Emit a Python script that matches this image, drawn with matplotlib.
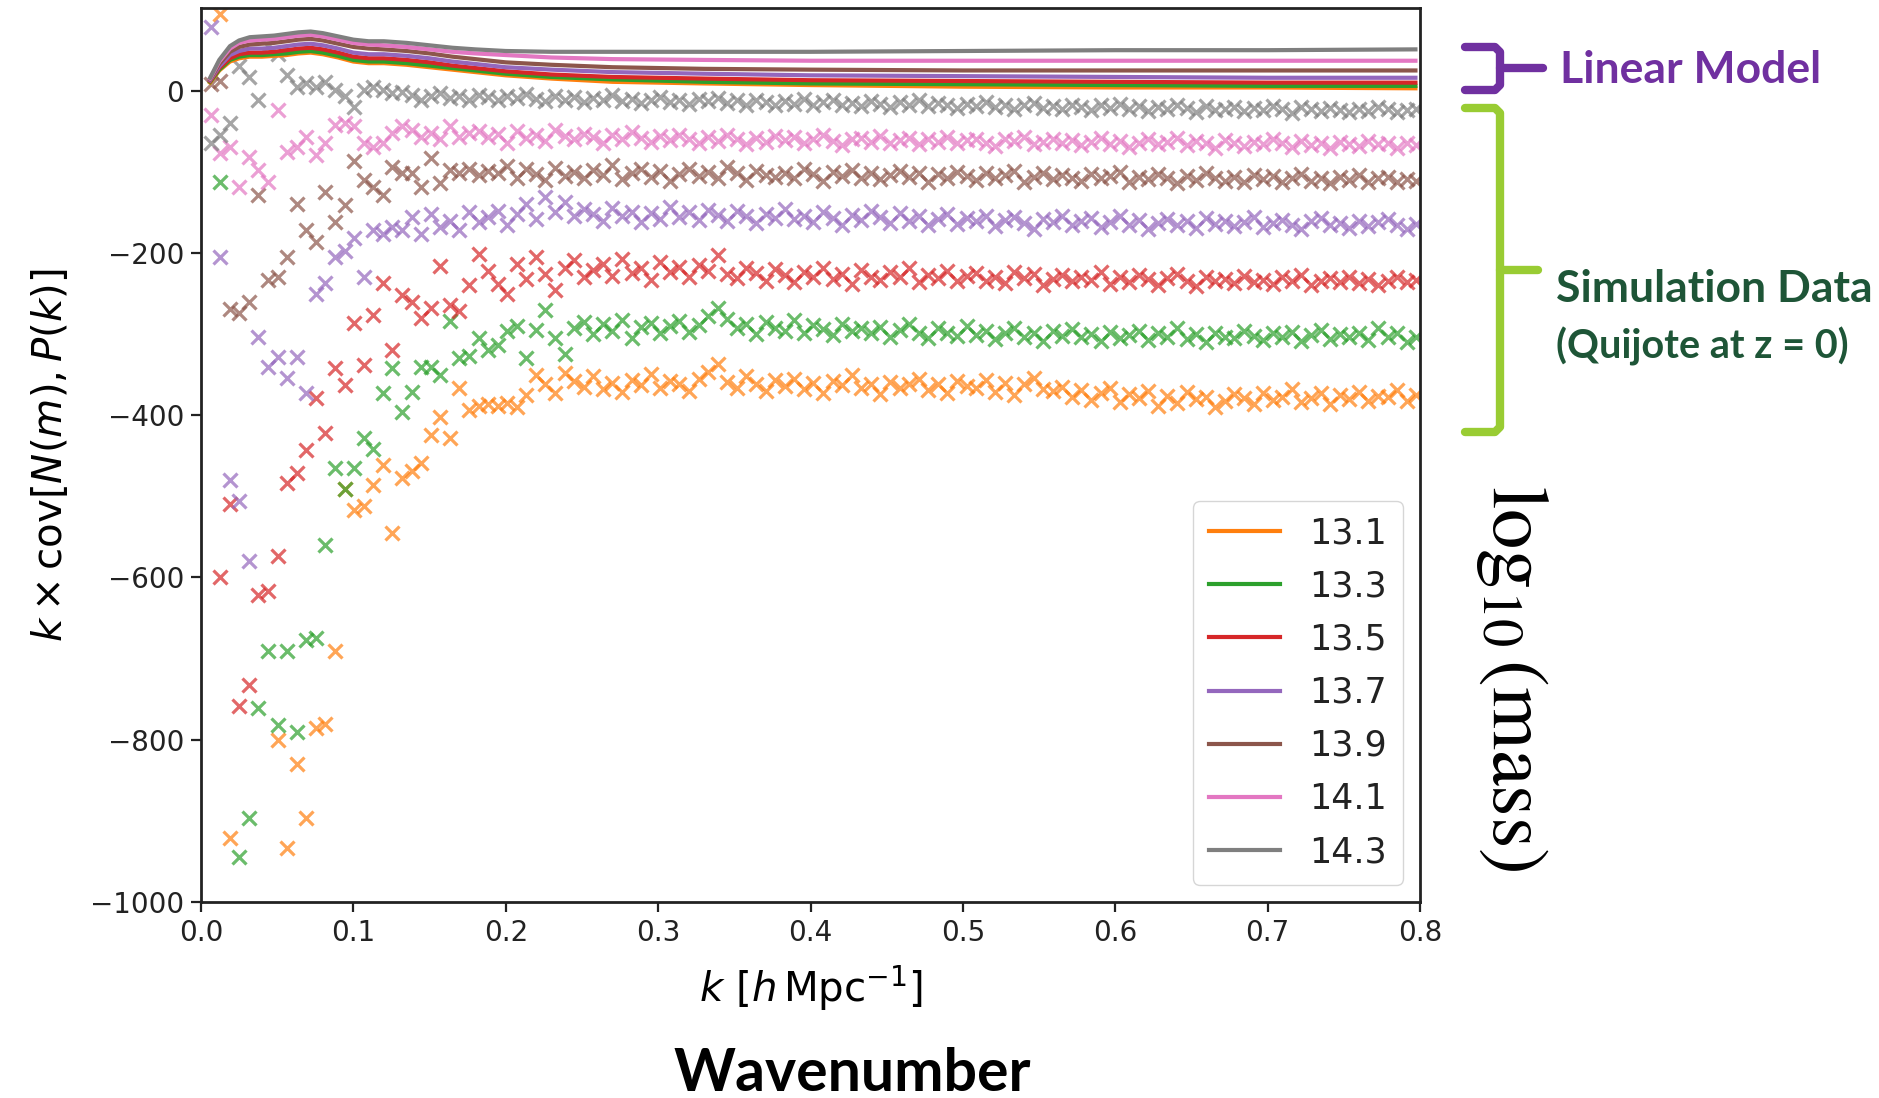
import matplotlib
matplotlib.use("Agg")
import matplotlib.pyplot as plt
import numpy as np
from matplotlib.lines import Line2D

nan = np.nan

# k bins of the simulation (fundamental frequency of a 1 Gpc/h box)
K_FUND = 0.00628
N_BINS = 127
k_bins = K_FUND * np.arange(1, N_BINS + 1)

masses = ["13.1", "13.3", "13.5", "13.7", "13.9", "14.1", "14.3"]
colors = ["tab:orange", "tab:green", "tab:red", "tab:purple",
          "tab:brown", "tab:pink", "tab:gray"]

# simulation data: k x cov[N(m), P(k)] for each mass bin
sim_131 = [
    nan, 94, -921, nan, nan, nan, nan, -800, -933, -830,
    -897, -786, -780, -691, -491, -517, -512, -486, -461, -545,
    -477, -469, -459, -424, -402, -428, -366, -393, -389, -386,
    -388, -385, -390, -375, -350, -362, -372, -348, -358, -365,
    -352, -368, -360, -371, -356, -363, -349, -366, -358, -361,
    -370, -355, -347, -337, -359, -366, -352, -362, -370, -357,
    -364, -355, -368, -360, -372, -358, -363, -351, -367, -361,
    -374, -359, -366, -362, -355, -369, -361, -373, -358, -364,
    -367, -356, -371, -360, -375, -362, -354, -368, -370, -365,
    -377, -369, -381, -372, -366, -384, -374, -379, -370, -388,
    -376, -385, -371, -380, -377, -390, -382, -374, -379, -386,
    -372, -381, -377, -368, -384, -379, -373, -386, -375, -380,
    -371, -383, -376, -378, -369, -382, -375,
]
sim_133 = [
    nan, -112, nan, -944, -897, -761, -691, -782, -691, -790,
    -677, -675, -560, -465, -491, -465, -428, -441, -373, -342,
    -396, -371, -340, -340, -350, -284, -329, -327, -305, -320,
    -313, -296, -290, -330, -295, -270, -305, -325, -293, -285,
    -300, -288, -296, -282, -305, -291, -286, -299, -290, -284,
    -297, -289, -278, -268, -281, -293, -287, -300, -285, -292,
    -296, -283, -298, -289, -294, -301, -287, -296, -292, -299,
    -291, -303, -295, -288, -299, -305, -293, -298, -302, -290,
    -301, -296, -306, -298, -292, -304, -299, -308, -296, -302,
    -294, -303, -300, -309, -297, -305, -301, -296, -307, -299,
    -304, -293, -306, -300, -310, -298, -303, -305, -296, -302,
    -307, -299, -304, -297, -309, -301, -295, -306, -300, -303,
    -298, -307, -292, -304, -299, -310, -303,
]
sim_135 = [
    nan, -600, -510, -758, -732, -621, -617, -574, -484, -471,
    -443, -379, -422, -342, -363, -286, -338, -276, -237, -319,
    -252, -260, -280, -268, -216, -264, -272, -240, -201, -222,
    -238, -250, -213, -232, -205, -226, -245, -218, -209, -230,
    -221, -214, -228, -207, -225, -219, -233, -211, -224, -217,
    -229, -215, -222, -202, -226, -231, -218, -225, -234, -220,
    -227, -236, -223, -230, -219, -232, -226, -238, -221, -229,
    -233, -224, -230, -218, -236, -227, -231, -222, -235, -228,
    -225, -234, -229, -237, -223, -231, -226, -240, -232, -227,
    -235, -229, -233, -224, -238, -230, -236, -227, -232, -239,
    -231, -226, -234, -241, -229, -235, -232, -237, -228, -236,
    -233, -238, -230, -235, -227, -239, -234, -231, -236, -229,
    -237, -232, -240, -234, -230, -236, -233,
]
sim_137 = [
    78, -205, -480, -506, -580, -303, -340, -328, -354, -328,
    -373, -250, -237, -205, -197, -181, -230, -172, -176, -168,
    -172, -156, -176, -152, -168, -160, -172, -150, -162, -156,
    -148, -165, -152, -140, -158, -131, -150, -137, -155, -146,
    -152, -160, -145, -155, -149, -162, -151, -158, -143, -156,
    -150, -159, -147, -153, -161, -148, -155, -163, -152, -157,
    -146, -158, -154, -162, -150, -157, -165, -153, -159, -148,
    -156, -163, -151, -160, -155, -166, -158, -152, -164, -157,
    -161, -154, -167, -159, -156, -163, -170, -158, -162, -155,
    -166, -160, -157, -168, -162, -154, -165, -159, -171, -163,
    -158, -166, -161, -169, -157, -164, -160, -167, -162, -156,
    -168, -163, -159, -165, -170, -161, -157, -166, -163, -169,
    -160, -167, -162, -158, -165, -171, -164,
]
sim_139 = [
    8, 12, -269, -274, -260, -129, -233, -230, -205, -139,
    -172, -186, -125, -162, -141, -86, -110, -119, -129, -94,
    -102, -102, -119, -83, -114, -98, -102, -96, -104, -99,
    -101, -93, -108, -97, -103, -110, -95, -105, -100, -107,
    -98, -104, -92, -109, -101, -96, -106, -99, -111, -103,
    -97, -105, -100, -108, -94, -102, -110, -99, -104, -106,
    -101, -108, -97, -103, -111, -100, -105, -98, -107, -102,
    -109, -104, -99, -106, -101, -112, -103, -107, -100, -105,
    -110, -102, -108, -104, -99, -113, -106, -101, -109, -104,
    -107, -111, -103, -108, -105, -100, -112, -106, -109, -103,
    -108, -114, -105, -110, -102, -107, -111, -106, -113, -104,
    -109, -105, -112, -108, -103, -111, -107, -114, -106, -110,
    -104, -112, -108, -106, -113, -109, -111,
]
sim_141 = [
    -30, -77, -69, -119, -82, -98, -113, -24, -75, -69,
    -57, -79, -65, -42, -40, -44, -65, -69, -65, -52,
    -44, -48, -57, -52, -60, -44, -57, -52, -50, -57,
    -53, -65, -50, -58, -55, -62, -48, -56, -60, -53,
    -57, -64, -55, -60, -51, -58, -63, -56, -61, -54,
    -59, -65, -57, -62, -55, -60, -66, -58, -63, -56,
    -61, -57, -64, -59, -55, -62, -67, -60, -58, -63,
    -56, -64, -61, -58, -66, -60, -63, -57, -65, -61,
    -59, -64, -68, -60, -62, -57, -66, -63, -59, -65,
    -61, -67, -63, -58, -66, -62, -69, -64, -60, -66,
    -63, -58, -67, -62, -65, -70, -61, -64, -68, -63,
    -66, -60, -65, -69, -62, -67, -64, -70, -63, -66,
    -68, -62, -66, -64, -70, -65, -67,
]
sim_143 = [
    -65, -55, -40, 30, 17, -11, 55, 45, 20, 5,
    10, 5, 11, 1, -7, -20, 1, 5, 1, -3,
    -1, -5, -11, -7, -3, -9, -6, -11, -5, -8,
    -12, -6, -9, -4, -10, -13, -7, -11, -8, -14,
    -9, -12, -5, -13, -10, -15, -11, -8, -14, -12,
    -16, -10, -13, -9, -15, -12, -17, -11, -14, -18,
    -13, -16, -10, -17, -14, -12, -18, -15, -19, -13,
    -16, -20, -14, -17, -12, -19, -15, -18, -21, -16,
    -19, -14, -20, -17, -22, -18, -15, -21, -19, -23,
    -17, -20, -24, -18, -21, -16, -22, -19, -25, -20,
    -23, -18, -21, -26, -19, -24, -22, -20, -25, -21,
    -24, -19, -23, -27, -20, -22, -25, -21, -24, -26,
    -22, -25, -20, -23, -26, -24, -22,
]
sim_data = [sim_131, sim_133, sim_135, sim_137, sim_139, sim_141, sim_143]

# linear model, read at a set of k nodes
k_model = [0.006, 0.012, 0.019, 0.025, 0.032, 0.040, 0.048, 0.056, 0.064,
           0.072, 0.080, 0.090, 0.100, 0.110, 0.120, 0.135, 0.150, 0.165,
           0.180, 0.200, 0.230, 0.270, 0.330, 0.400, 0.500, 0.600, 0.700,
           0.797]
lin_131 = [10, 25, 36, 40, 42, 42, 43, 44, 46, 47, 45, 41, 36, 34, 34, 32,
           29, 26, 23, 19, 15, 11, 9, 7, 5, 4, 4, 3]
lin_133 = [11, 26, 38, 42, 44, 44, 45, 46, 48, 49, 47, 43, 38, 36, 36, 34,
           31, 28, 25, 21, 17, 14, 11, 9, 8, 7, 6, 6]
lin_135 = [12, 28, 40, 45, 47, 47, 48, 50, 52, 53, 51, 47, 42, 40, 40, 38,
           35, 31, 28, 24, 20, 17, 15, 13, 12, 11, 10, 10]
lin_137 = [13, 30, 44, 49, 52, 52, 53, 55, 57, 58, 56, 52, 47, 45, 45, 43,
           40, 36, 33, 29, 26, 23, 21, 19, 18, 17, 16, 16]
lin_139 = [14, 33, 48, 54, 57, 58, 59, 61, 63, 64, 62, 58, 54, 52, 51, 49,
           46, 42, 39, 35, 32, 29, 27, 26, 25, 25, 25, 25]
lin_141 = [15, 36, 52, 59, 62, 63, 64, 66, 68, 69, 67, 63, 59, 57, 56, 54,
           51, 48, 46, 44, 41, 39, 38, 37, 37, 37, 37, 37]
lin_143 = [16, 38, 55, 62, 66, 67, 68, 70, 72, 73, 71, 67, 63, 61, 61, 59,
           56, 53, 51, 49, 48, 48, 48, 48, 49, 50, 50, 51]
lin_model = [lin_131, lin_133, lin_135, lin_137, lin_139, lin_141, lin_143]

W, H = 1879, 1098


def fx(x):
    return x / W


def fy(y):
    return 1 - y / H


fig = plt.figure(figsize=(W / 100, H / 100), dpi=100)
ax = fig.add_axes([fx(201), fy(902), fx(1420) - fx(201), fy(8) - fy(902)])

for vals, col in zip(sim_data, colors):
    ax.plot(k_bins, vals, linestyle="none", marker="x", ms=10, mew=2.3,
            color=col, alpha=0.7)

for vals, col, lab in zip(lin_model, colors, masses):
    ax.plot(k_model, vals, color=col, lw=3, label=lab)

ax.set_xlim(0, 0.8)
ax.set_ylim(-1000, 102)
ax.set_xticks(np.arange(0, 0.81, 0.1))
ax.set_yticks([-1000, -800, -600, -400, -200, 0])
ax.tick_params(labelsize=20, length=7, width=1.6, pad=5,
               colors="#222222")
for sp in ax.spines.values():
    sp.set_linewidth(2)
    sp.set_color("#222222")

ax.set_xlabel(r"$k\ [h\,\mathrm{Mpc}^{-1}]$", fontsize=29, labelpad=12)
ax.set_ylabel(r"$k \times \mathrm{cov}[N(m), P(k)]$", fontsize=29,
              labelpad=14)

leg = ax.legend(loc="lower right", fontsize=25, handlelength=2.05,
                handletextpad=0.85, borderpad=0.45, labelspacing=0.55)
for t in leg.get_texts():
    t.set_color("#222222")

# annotations outside the axes
purple = "#7030A0"
lime = "#99CC33"
dgreen = "#1E5537"


def brace(x0, xm, xt, ytop, ymid, ybot, color):
    xs = [x0, xm - 5, xm, xm, xm - 5, x0]
    ys = [ytop, ytop, ytop + 5, ybot - 5, ybot, ybot]
    fig.add_artist(Line2D([fx(v) for v in xs], [fy(v) for v in ys],
                          color=color, lw=6, solid_joinstyle="round",
                          solid_capstyle="round"))
    fig.add_artist(Line2D([fx(xm), fx(xt)], [fy(ymid), fy(ymid)],
                          color=color, lw=6, solid_capstyle="round"))


brace(1465, 1500, 1543, 47, 68, 90, purple)
brace(1465, 1500, 1538, 108, 270, 432, lime)

fig.text(fx(1560), fy(70), "Linear Model", fontsize=32, fontweight="bold",
         family="Lato", color=purple, ha="left", va="center")
fig.text(fx(1556), fy(289), "Simulation Data", fontsize=32,
         fontweight="bold", family="Lato", color=dgreen, ha="left",
         va="center")
fig.text(fx(1556), fy(346), "(Quijote at z = 0)", fontsize=28.5,
         fontweight="bold", family="Lato", color=dgreen, ha="left",
         va="center")
fig.text(fx(1513), fy(678), r"$\log_{10}(\mathrm{mass})$", fontsize=58,
         math_fontfamily="stix", rotation=-90, ha="center", va="center")
fig.text(fx(852), fy(1074), "Wavenumber", fontsize=42.5, fontweight="bold",
         family="Lato", ha="center", va="center")

fig.savefig("out.png", dpi=100)
